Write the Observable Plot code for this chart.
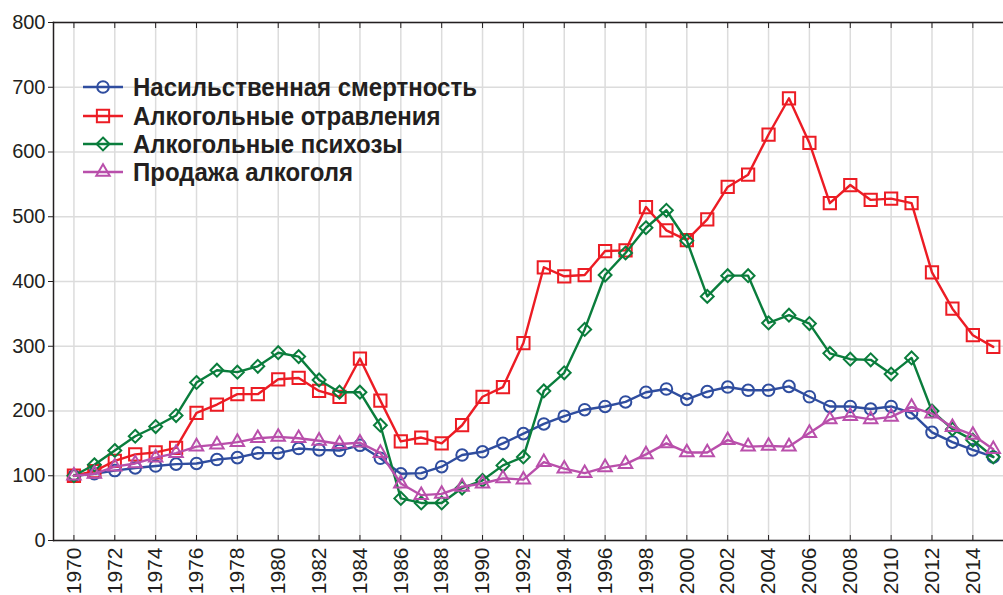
<!DOCTYPE html>
<html>
<head>
<meta charset="utf-8">
<script src="https://cdn.jsdelivr.net/npm/d3@7"></script>
<script src="https://cdn.jsdelivr.net/npm/@observablehq/plot@0.6"></script>
<style>
  html, body { margin: 0; padding: 0; background: #fff; }
  #wrap { position: relative; width: 1003px; height: 595px; overflow: hidden; font-family: "Liberation Sans", Arial, sans-serif; }
  #legend { position: absolute; left: 83px; top: 73px; }
  .lrow { display: flex; align-items: center; height: 28.4px; }
  .lrow span { font-weight: bold; font-size: 24px; color: #231f20; margin-left: 10px; white-space: nowrap; line-height: 28px; display: inline-block; transform: scaleY(1.08); }
</style>
</head>
<body>
<div id="wrap"></div>
<script>
const years = d3.range(1970, 2016);
const xTicks = d3.range(1970, 2015, 2);
const yTicks = [0, 100, 200, 300, 400, 500, 600, 700, 800];

const seriesNames = [
  "Насильственная смертность",
  "Алкогольные отравления",
  "Алкогольные психозы",
  "Продажа алкоголя"
];
const seriesColors = ["#2f4d9f", "#ec1c24", "#0a7d3c", "#b94fab"];
const seriesSymbols = ["circle", "square2", "diamond2", "triangle2"];
const seriesRadius = [5.8, 7.8, 5.8, 6.4];

const violentDeaths = [100,103,108,112,115,118,119,125,128,135,135,142,140,139,147,127,103,104,114,132,137,150,165,180,192,202,207,214,229,234,218,230,237,232,232,238,222,207,207,203,207,197,167,152,140,129];
const alcoholPoisoning = [100,107,123,133,136,143,197,210,226,226,249,251,231,222,281,216,153,159,150,178,222,237,305,422,408,410,447,448,515,479,464,496,546,565,627,683,614,521,549,526,528,521,414,358,317,299];
const alcoholPsychoses = [100,117,139,161,176,193,244,263,260,269,290,284,248,229,229,178,65,58,58,81,93,116,129,231,259,326,410,444,483,510,463,377,409,409,336,348,335,289,280,279,257,282,200,172,155,129];
const alcoholSales = [100,103,114,119,128,135,145,148,152,158,160,158,154,149,151,135,88,70,72,83,88,96,94,121,111,104,113,118,133,150,136,136,155,145,146,145,166,187,192,187,191,206,196,175,163,141];

const seriesValues = [violentDeaths, alcoholPoisoning, alcoholPsychoses, alcoholSales];

const tables = seriesValues.map((vals, i) =>
  years.map((yr, j) => ({year: yr, value: vals[j], series: seriesNames[i]}))
);

const marks = [
  Plot.gridY(yTicks, {stroke: "#dcdcdc", strokeOpacity: 1, strokeWidth: 1.5}),
  Plot.gridX(xTicks, {stroke: "#dcdcdc", strokeOpacity: 1, strokeWidth: 1.5}),
  Plot.frame({anchor: "top", stroke: "#231f20", strokeWidth: 1.5}),
  Plot.ruleY([0], {stroke: "#231f20", strokeWidth: 1.5}),
  Plot.frame({anchor: "left", stroke: "#231f20", strokeWidth: 1.5}),
  Plot.axisY({ticks: yTicks, tickSize: 5, tickPadding: 3, fontSize: 20, stroke: "#231f20", label: null}),
  Plot.axisX({ticks: xTicks, tickSize: -5, tickPadding: 12, tickRotate: -90, fontSize: 21, tickFormat: d => String(d), stroke: "#231f20", label: null}),
  Plot.axisX({anchor: "top", ticks: xTicks, tickSize: -5, tickFormat: () => "", stroke: "#231f20", label: null})
];

tables.forEach((t, i) => {
  marks.push(Plot.line(t, {x: "year", y: "value", stroke: seriesColors[i], strokeWidth: 2.4}));
  marks.push(Plot.dot(t, {x: "year", y: "value", stroke: seriesColors[i], symbol: seriesSymbols[i], r: seriesRadius[i], strokeWidth: 2, fill: "none"}));
});

const chart = Plot.plot({
  width: 1003,
  height: 595,
  marginLeft: 53,
  marginRight: 0,
  marginTop: 22,
  marginBottom: 55,
  style: {fontFamily: "'Liberation Sans', Arial, sans-serif", color: "#231f20", background: "#fff"},
  x: {domain: [1969, 2015.5]},
  y: {domain: [0, 800]},
  marks
});

const wrap = document.getElementById("wrap");
wrap.appendChild(chart);

// Legend
const legend = document.createElement("div");
legend.id = "legend";
seriesNames.forEach((name, i) => {
  const row = document.createElement("div");
  row.className = "lrow";
  const svg = d3.create("svg").attr("width", 40).attr("height", 20);
  svg.append("line").attr("x1", 0).attr("x2", 40).attr("y1", 10).attr("y2", 10)
    .attr("stroke", seriesColors[i]).attr("stroke-width", 2.4);
  const symMap = {circle: d3.symbolCircle, square2: d3.symbolSquare2, diamond2: d3.symbolDiamond2, triangle2: d3.symbolTriangle2};
  const r = seriesRadius[i];
  svg.append("path").attr("transform", "translate(20,10)")
    .attr("d", d3.symbol(symMap[seriesSymbols[i]], r * r * Math.PI)())
    .attr("fill", "none").attr("stroke", seriesColors[i]).attr("stroke-width", 2);
  row.appendChild(svg.node());
  const sp = document.createElement("span");
  sp.textContent = name;
  row.appendChild(sp);
  legend.appendChild(row);
});
wrap.appendChild(legend);
</script>
</body>
</html>
